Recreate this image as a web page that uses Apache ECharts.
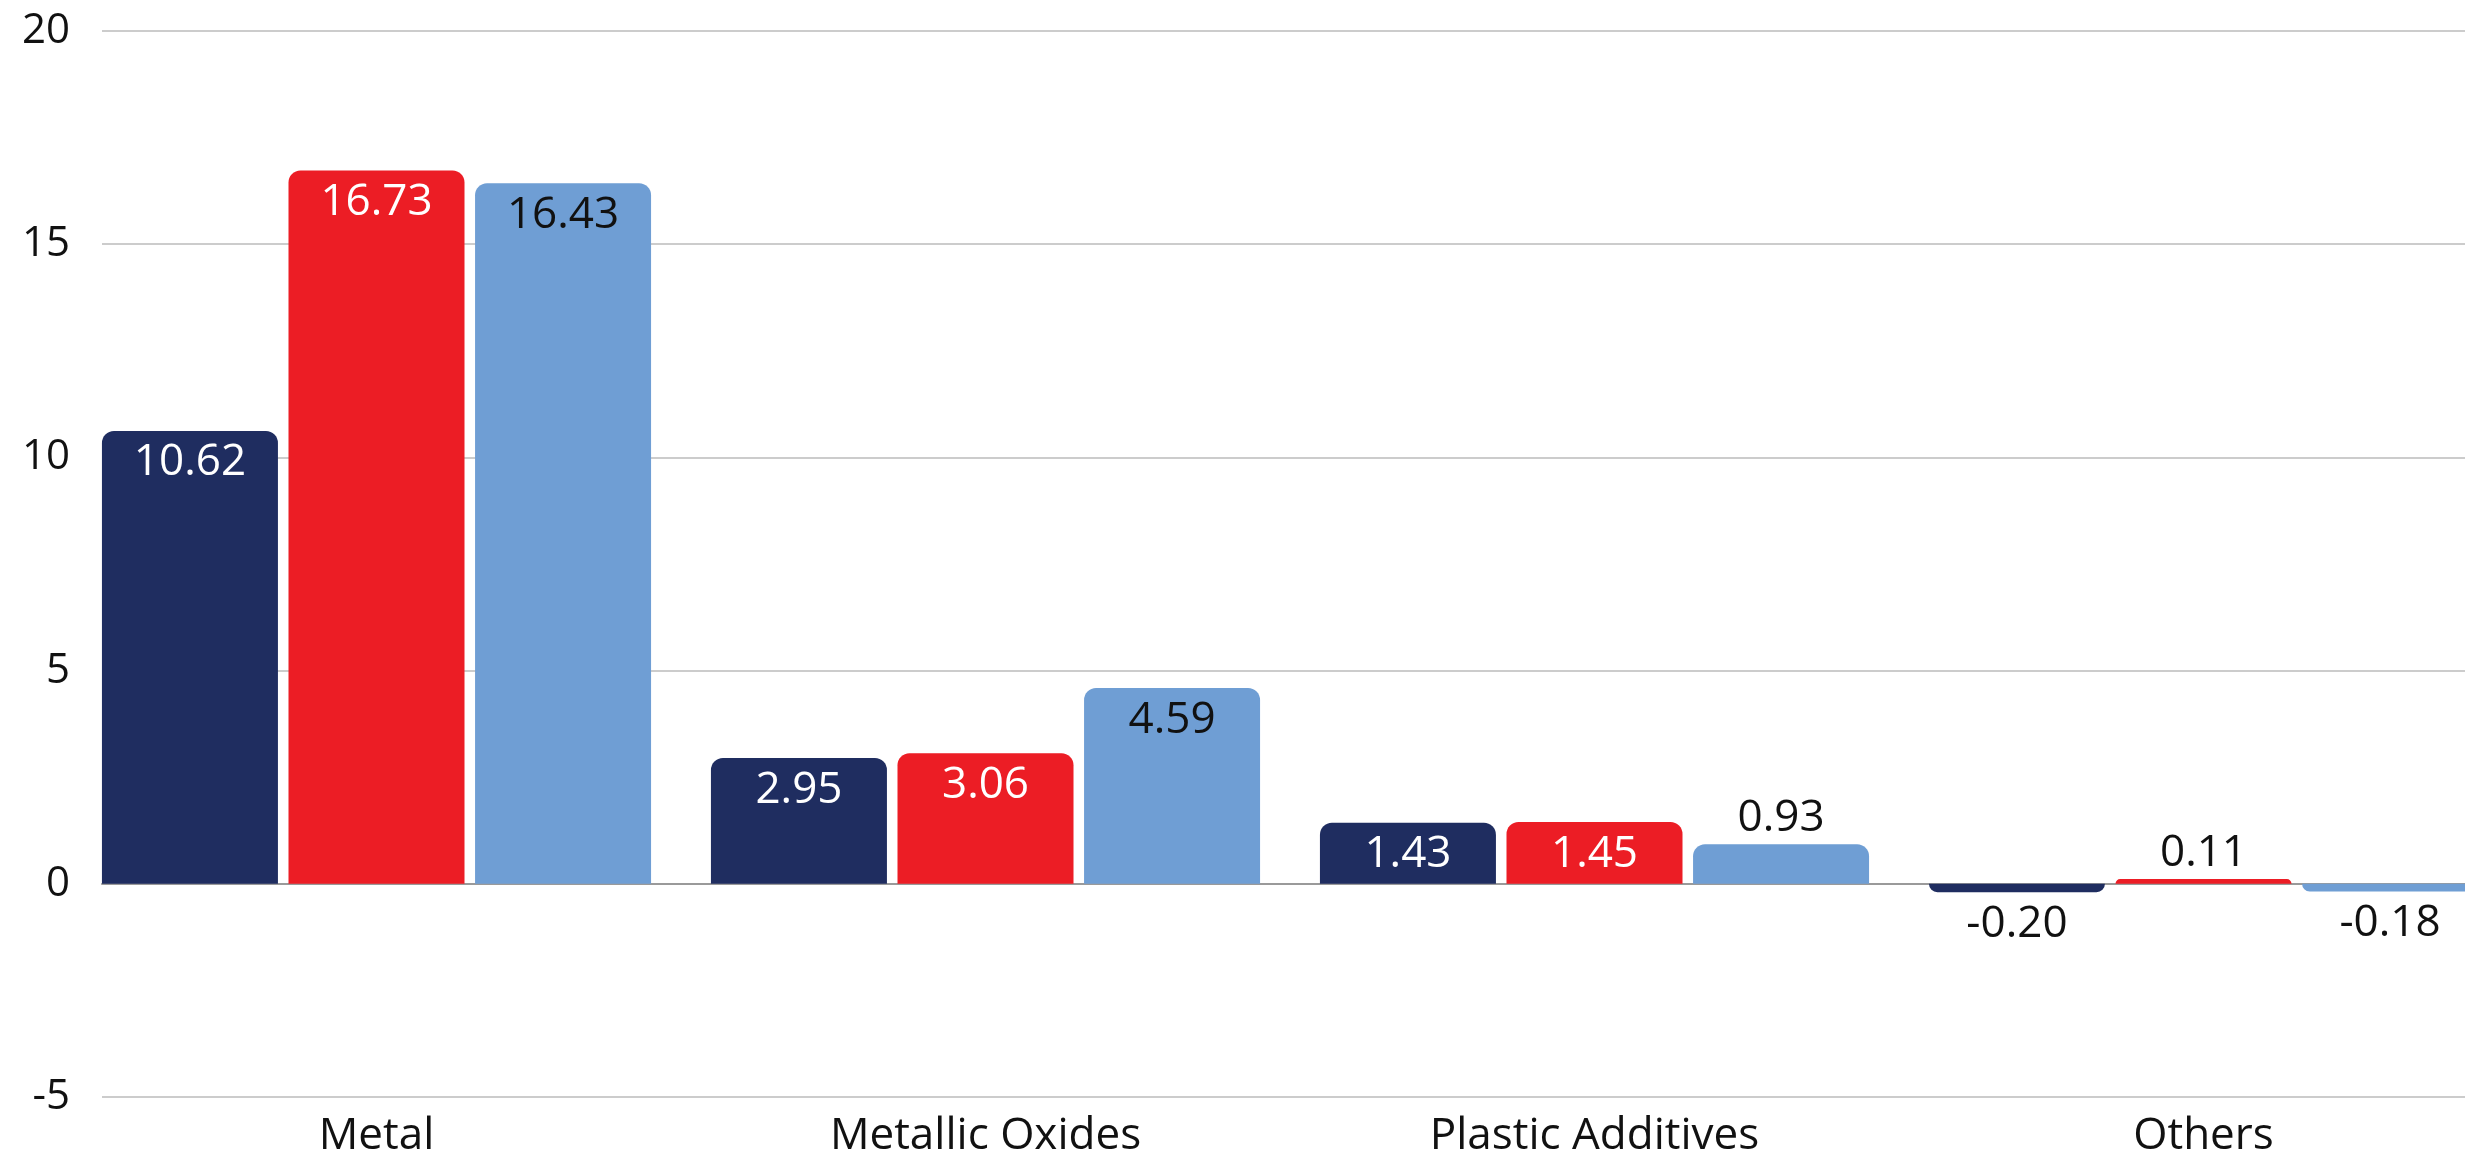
<!DOCTYPE html>
<html>
<head>
<meta charset="utf-8">
<script src="https://cdn.jsdelivr.net/npm/echarts@6/dist/echarts.min.js"></script>
<style>
  html, body { margin: 0; padding: 0; background: #fff; }
  #chart { width: 2465px; height: 1161px; }
</style>
</head>
<body>
<div id="chart"></div>
<script>
var categories = ['Metal', 'Metallic Oxides', 'Plastic Additives', 'Others']
var seriesA = [10.62, 2.95, 1.43, -0.20]
var seriesB = [16.73, 3.06, 1.45, 0.11]
var seriesC = [16.43, 4.59, 0.93, -0.18]
var yTicks = { min: -5, max: 20, interval: 5 }

var FONT = 'Open Sans'

// short bars get their label outside, tall ones inside the top
function toItems (values, insideColor) {
  return values.map(function (v) {
    var small = Math.abs(v) < 1
    return {
      value: v,
      itemStyle: { borderRadius: v >= 0 ? [12, 12, 0, 0] : [0, 0, 12, 12] },
      label: {
        position: small ? (v >= 0 ? 'top' : 'bottom') : 'insideTop',
        distance: small ? (v >= 0 ? 4 : 10) : 10,
        color: small ? '#111' : insideColor
      }
    }
  })
}

function makeSeries (name, values, color, labelColor) {
  return {
    name: name,
    type: 'bar',
    xAxisIndex: 1,
    yAxisIndex: 1,
    barWidth: 176,
    barGap: '6%',
    itemStyle: { color: color },
    label: {
      show: true,
      fontFamily: FONT,
      fontSize: 44,
      formatter: function (p) { return p.value.toFixed(2) }
    },
    data: toItems(values, labelColor)
  }
}

var chart = echarts.init(document.getElementById('chart'))
chart.setOption({
  backgroundColor: '#fff',
  animation: false,
  grid: [
    { left: 102, right: 0, top: 31, height: 1066, outerBoundsMode: 'none' },
    // the bar grid runs past the right edge, the last group is cut off
    { left: 72, width: 2436, top: 31, height: 1066, outerBoundsMode: 'none' }
  ],
  xAxis: [
    {
      gridIndex: 0,
      type: 'category',
      data: categories,
      axisLine: { show: true, onZero: true, lineStyle: { color: '#9a9a9a', width: 2 } },
      axisTick: { show: false },
      axisLabel: { show: false }
    },
    {
      gridIndex: 1,
      type: 'category',
      data: categories,
      axisLine: { show: false, onZero: false },
      axisTick: { show: false },
      axisLabel: { fontFamily: FONT, fontSize: 44, color: '#111', margin: 17 }
    }
  ],
  yAxis: [
    {
      gridIndex: 0,
      type: 'value',
      min: yTicks.min,
      max: yTicks.max,
      interval: yTicks.interval,
      axisLine: { show: false },
      axisTick: { show: false },
      axisLabel: { fontFamily: FONT, fontSize: 42, color: '#111', margin: 32 },
      splitLine: { lineStyle: { color: '#cccccc', width: 2 } }
    },
    {
      gridIndex: 1,
      type: 'value',
      min: yTicks.min,
      max: yTicks.max,
      interval: yTicks.interval,
      show: false,
      splitLine: { show: false }
    }
  ],
  series: [
    makeSeries('Series 1', seriesA, '#1f2d60', '#ffffff'),
    makeSeries('Series 2', seriesB, '#ec1d25', '#ffffff'),
    makeSeries('Series 3', seriesC, '#6f9ed4', '#111111')
  ]
})
</script>
</body>
</html>
